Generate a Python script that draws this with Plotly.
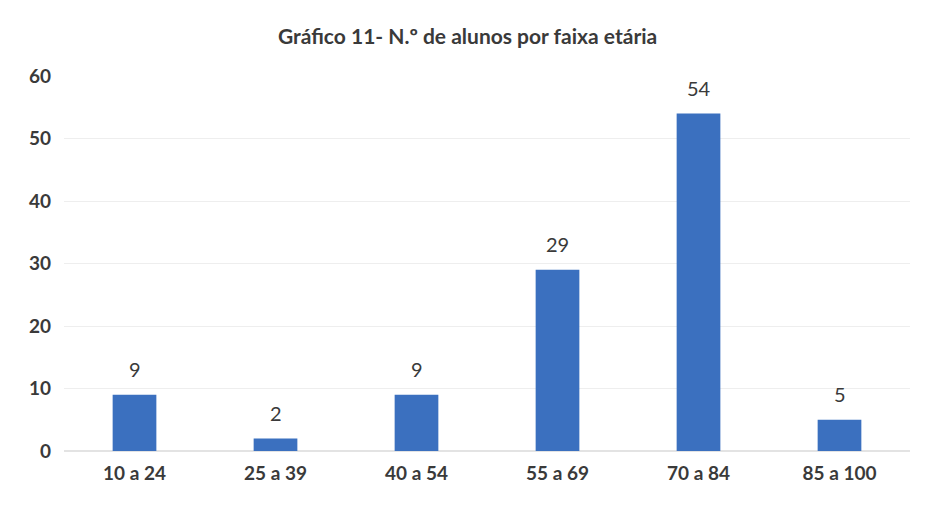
import plotly.graph_objects as go

categories = ["10 a 24", "25 a 39", "40 a 54", "55 a 69", "70 a 84", "85 a 100"]
values = [9, 2, 9, 29, 54, 5]
y_ticks = [0, 10, 20, 30, 40, 50, 60]

font_family = "Lato, 'Open Sans', sans-serif"
text_color = "#3a3a3a"

fig = go.Figure(go.Bar(
    x=categories, y=values,
    marker=dict(color="#3b70bf", line=dict(width=0)),
    width=0.31,
    hoverinfo="x+y",
))

for c, v in zip(categories, values):
    fig.add_annotation(x=c, y=v, text=str(v), showarrow=False,
                       yanchor="bottom", yshift=12,
                       font=dict(family=font_family, size=20, color=text_color))

fig.update_layout(
    width=938, height=516,
    paper_bgcolor="white", plot_bgcolor="white",
    margin=dict(l=56, r=36, t=68, b=73),
    title=dict(text="<b>Gráfico 11- N.º de alunos por faixa etária</b>",
               x=0.49, xanchor="center", y=0.944, yanchor="middle",
               font=dict(family=font_family, size=21, color=text_color)),
    showlegend=False,
    bargap=0.69,
)
fig.update_yaxes(range=[0, 60], tickvals=y_ticks,
                 ticktext=["<b>%d</b>" % t for t in y_ticks],
                 showgrid=True,
                 gridcolor="#eeeeee", gridwidth=1, zeroline=True,
                 zerolinecolor="#e3e3e3", showline=False, ticks="",
                 tickfont=dict(family=font_family, size=19, color=text_color),
                 ticklabelstandoff=12)
fig.update_xaxes(showline=False, ticks="",
                 tickfont=dict(family=font_family, size=19, color=text_color),
                 tickprefix="<b>", ticksuffix="</b>", ticklabelstandoff=9)

fig.write_html("out.html")
